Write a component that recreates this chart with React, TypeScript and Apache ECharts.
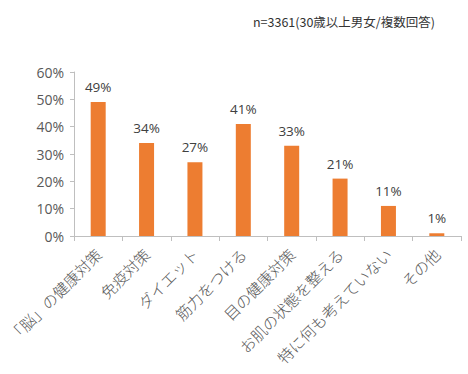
import React, { useEffect, useRef } from "react";
import * as echarts from "echarts";

const categories = ["「脳」の健康対策", "免疫対策", "ダイエット", "筋力をつける", "目の健康対策", "お肌の状態を整える", "特に何も考えていない", "その他"];
const values = [49, 34, 27, 41, 33, 21, 11, 1];
const note = "n=3361(30歳以上男女/複数回答)";

export default function App() {
  const ref = useRef<HTMLDivElement>(null);
  useEffect(() => {
    const chart = echarts.init(ref.current!, null, { renderer: "svg" });
    const font = "'Noto Sans CJK JP', 'Noto Sans', sans-serif";
    chart.setOption({
      animation: false,
      textStyle: { fontFamily: font },
      title: {
        text: note,
        right: 28,
        top: 10,
        textStyle: { fontSize: 12.5, fontWeight: "normal", color: "#333333", fontFamily: font },
      },
      grid: { left: 74, right: 7, top: 72, bottom: 138, containLabel: false },
      xAxis: {
        type: "category",
        data: categories,
        axisLine: { show: true, lineStyle: { color: "#bfbfbf" } },
        axisTick: { show: true, alignWithLabel: false, length: 5, lineStyle: { color: "#bfbfbf" } },
        axisLabel: { rotate: 45, fontSize: 15.5, fontWeight: 300, color: "#595959", margin: 15, interval: 0, fontFamily: font },
      },
      yAxis: {
        type: "value",
        min: 0,
        max: 60,
        interval: 10,
        axisLine: { show: true, lineStyle: { color: "#bfbfbf" } },
        axisTick: { show: true, length: 4, lineStyle: { color: "#bfbfbf" } },
        splitLine: { show: false },
        axisLabel: { formatter: "{value}%", fontSize: 14, color: "#595959", margin: 10, fontFamily: "'Open Sans', sans-serif" },
      },
      series: [
        {
          type: "bar",
          data: values,
          barWidth: 15,
          itemStyle: { color: "#ED7D31" },
          label: {
            show: true,
            position: "top",
            formatter: "{c}%",
            fontSize: 13.5,
            color: "#404040",
            distance: 8,
            fontFamily: "'Open Sans', sans-serif",
          },
        },
      ],
    });
    return () => chart.dispose();
  }, []);
  return <div ref={ref} style={{ width: 468, height: 374, position: "absolute", left: 0, top: 0 }} />;
}
